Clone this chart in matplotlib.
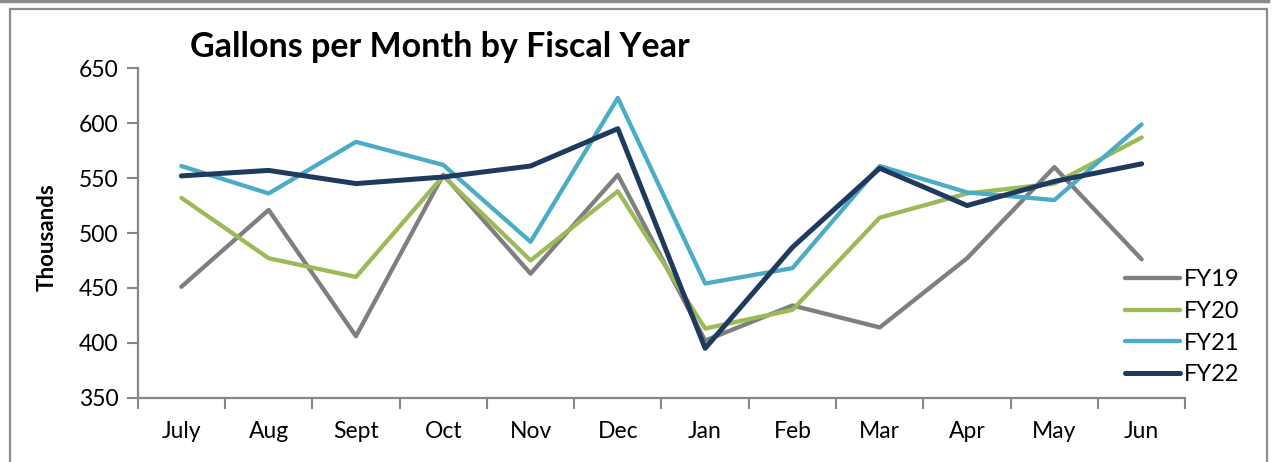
import matplotlib.pyplot as plt
from matplotlib.patches import Rectangle
from matplotlib.lines import Line2D

# Monthly gallons (thousands), fiscal year runs July -> June
months = ['July', 'Aug', 'Sept', 'Oct', 'Nov', 'Dec', 'Jan', 'Feb', 'Mar', 'Apr', 'May', 'Jun']
fy19 = [451, 521, 406, 553, 463, 553, 402, 434, 414, 477, 560, 476]
fy20 = [532, 477, 460, 552, 475, 538, 413, 430, 514, 536, 545, 587]
fy21 = [561, 536, 583, 562, 492, 623, 454, 468, 561, 537, 530, 599]
fy22 = [552, 557, 545, 551, 561, 595, 395, 487, 559, 525, 547, 563]
series_names = ['FY19', 'FY20', 'FY21', 'FY22']

colores = ['#7f7f7f', '#9bbb59', '#4bacc6', '#1f3a5f']
anchos = [3.1, 3.1, 3.1, 3.6]
gris_eje = '#878787'

plt.rcParams['font.family'] = ['Lato', 'DejaVu Sans']

W, H = 1273, 462
fig = plt.figure(figsize=(W / 100, H / 100), dpi=100)

# marco del area del grafico
fig.patches.append(Rectangle((10 / W, -0.05), 1257 / W, 1.05 - 9 / H, transform=fig.transFigure,
                             fill=False, edgecolor='#8c8c8c', linewidth=1.6))
fig.add_artist(Line2D([0, 1268 / W], [1 - 0.5 / H, 1 - 0.5 / H], transform=fig.transFigure,
                      color='#8c8c8c', linewidth=2.5))

ax = fig.add_axes([137.7 / W, 1 - 397.7 / H, 1047.6 / W, 329.4 / H])

x = list(range(len(months)))
for datos, nombre, c, lw in zip([fy19, fy20, fy21, fy22], series_names, colores, anchos):
    ax.plot(x, datos, color=c, linewidth=lw, label=nombre,
            solid_capstyle='round', solid_joinstyle='round')

ax.set_xlim(-0.5, 11.5)
ax.set_ylim(350, 650)
ax.set_yticks(range(350, 651, 50))

# ticks entre categorias, etiquetas centradas
ax.set_xticks([i - 0.5 for i in range(13)])
ax.set_xticklabels([])
ax.set_xticks(x, minor=True)
ax.set_xticklabels(months, minor=True)
ax.tick_params(axis='x', which='minor', length=0, pad=17, labelsize=16.5)
ax.tick_params(axis='x', which='major', length=8, width=1.5, color=gris_eje, direction='out')
ax.tick_params(axis='y', length=8, width=1.5, color=gris_eje, direction='out', labelsize=16.5, pad=6)

for lado in ['top', 'right']:
    ax.spines[lado].set_visible(False)
for lado in ['left', 'bottom']:
    ax.spines[lado].set_color(gris_eje)
    ax.spines[lado].set_linewidth(1.6)

ax.set_ylabel('Thousands', fontsize=16, fontweight='bold')
ax.yaxis.set_label_coords((58 - 137.7) / 1047.6, 0.488)

fig.text(190 / W, 1 - 47 / H, 'Gallons per Month by Fiscal Year', fontsize=24.5,
         fontweight='bold', ha='left', va='center')

leg = ax.legend(loc='lower left', bbox_to_anchor=(1113 / W, 1 - 397 / H),
                bbox_transform=fig.transFigure, frameon=False, fontsize=17,
                handlelength=2.35, handletextpad=0.15, labelspacing=0.45, borderpad=0)

fig.savefig('out.png', dpi=100)
